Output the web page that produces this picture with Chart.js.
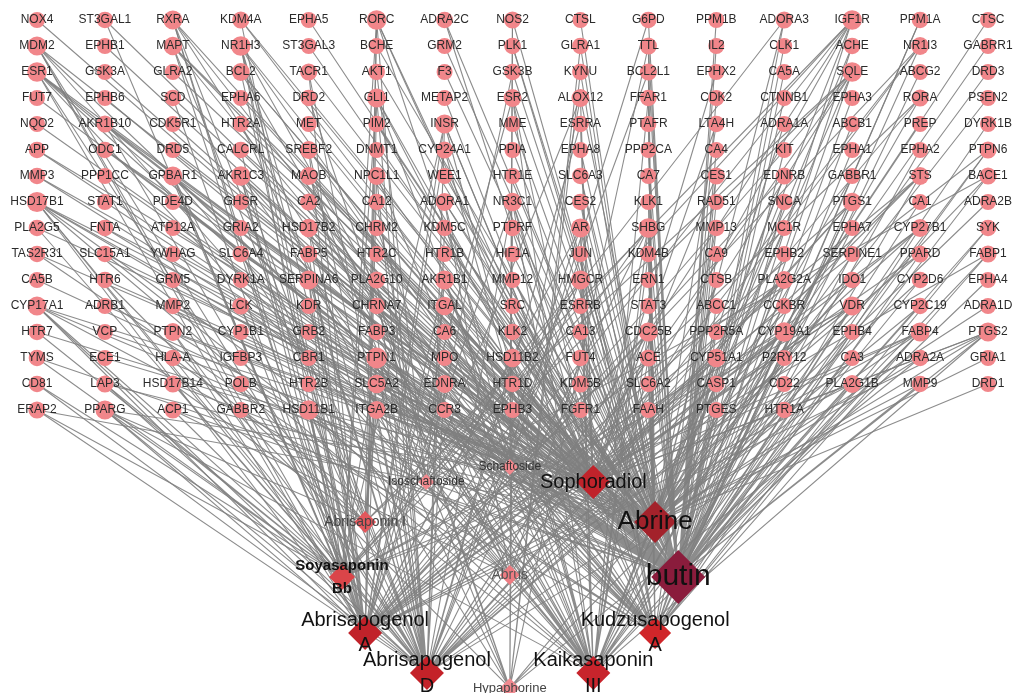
<!DOCTYPE html>
<html>
<head>
<meta charset="utf-8">
<title>Compound-target network</title>
<script src="https://cdn.jsdelivr.net/npm/chart.js@4.4.1/dist/chart.umd.min.js"></script>
<style>
  html, body { margin: 0; padding: 0; background: #fff; }
  #wrap { width: 1013px; height: 693px; }
</style>
</head>
<body>
<div id="wrap"><canvas id="net" width="1013" height="693"></canvas></div>
<script>
// target grid, row by row (column index = position in the row)
const targetRows = [
  ["NOX4","ST3GAL1","RXRA","KDM4A","EPHA5","RORC","ADRA2C","NOS2","CTSL","G6PD","PPM1B","ADORA3","IGF1R","PPM1A","CTSC"],
  ["MDM2","EPHB1","MAPT","NR1H3","ST3GAL3","BCHE","GRM2","PLK1","GLRA1","TTL","IL2","CLK1","ACHE","NR1I3","GABRR1"],
  ["ESR1","GSK3A","GLRA2","BCL2","TACR1","AKT1","F3","GSK3B","KYNU","BCL2L1","EPHX2","CA5A","SQLE","ABCG2","DRD3"],
  ["FUT7","EPHB6","SCD","EPHA6","DRD2","GLI1","METAP2","ESR2","ALOX12","FFAR1","CDK2","CTNNB1","EPHA3","RORA","PSEN2"],
  ["NQO2","AKR1B10","CDK5R1","HTR2A","MET","PIM2","INSR","MME","ESRRA","PTAFR","LTA4H","ADRA1A","ABCB1","PREP","DYRK1B"],
  ["APP","ODC1","DRD5","CALCRL","SREBF2","DNMT1","CYP24A1","PPIA","EPHA8","PPP2CA","CA4","KIT","EPHA1","EPHA2","PTPN6"],
  ["MMP3","PPP1CC","GPBAR1","AKR1C3","MAOB","NPC1L1","WEE1","HTR1E","SLC6A3","CA7","CES1","EDNRB","GABBR1","STS","BACE1"],
  ["HSD17B1","STAT1","PDE4D","GHSR","CA2","CA12","ADORA1","NR3C1","CES2","KLK1","RAD51","SNCA","PTGS1","CA1","ADRA2B"],
  ["PLA2G5","FNTA","ATP12A","GRIA2","HSD17B2","CHRM2","KDM5C","PTPRF","AR","SHBG","MMP13","MC1R","EPHA7","CYP27B1","SYK"],
  ["TAS2R31","SLC15A1","YWHAG","SLC6A4","FABP5","HTR2C","HTR1B","HIF1A","JUN","KDM4B","CA9","EPHB2","SERPINE1","PPARD","FABP1"],
  ["CA5B","HTR6","GRM5","DYRK1A","SERPINA6","PLA2G10","AKR1B1","MMP12","HMGCR","ERN1","CTSB","PLA2G2A","IDO1","CYP2D6","EPHA4"],
  ["CYP17A1","ADRB1","MMP2","LCK","KDR","CHRNA7","ITGAL","SRC","ESRRB","STAT3","ABCC1","CCKBR","VDR","CYP2C19","ADRA1D"],
  ["HTR7","VCP","PTPN2","CYP1B1","GRB2","FABP3","CA6","KLK2","CA13","CDC25B","PPP2R5A","CYP19A1","EPHB4","FABP4","PTGS2"],
  ["TYMS","ECE1","HLA-A","IGFBP3","CBR1","PTPN1","MPO","HSD11B2","FUT4","ACE","CYP51A1","P2RY12","CA3","ADRA2A","GRIA1"],
  ["CD81","LAP3","HSD17B14","POLB","HTR2B","SLC5A2","EDNRA","HTR1D","KDM5B","SLC6A2","CASP1","CD22","PLA2G1B","MMP9","DRD1"],
  ["ERAP2","PPARG","ACP1","GABBR2","HSD11B1","ITGA2B","CCR3","EPHB3","FGFR1","FAAH","PTGES","HTR1A"]
];

// compounds (position given in grid units: column / row)
const compoundNames  = ["Schaftoside","Isoschaftoside","Sophoradiol","Abrisaponin I","Abrine","Soyasaponin Bb","Abrus","butin","Abrisapogenol A","Kudzusapogenol A","Abrisapogenol D","Kaikasaponin III","Hypaphorine"];
const compoundLabels = ["Schaftoside","Isoschaftoside","Sophoradiol","Abrisaponin I","Abrine","Soyasaponin\nBb","Abrus","butin","Abrisapogenol\nA","Kudzusapogenol\nA","Abrisapogenol\nD","Kaikasaponin\nIII","Hypaphorine"];
const compoundCol    = [6.96, 5.73, 8.19, 4.83, 9.10, 4.49, 6.96, 9.44, 4.83, 9.10, 5.74, 8.19, 6.96];
const compoundRow    = [17.19, 17.77, 17.77, 19.31, 19.31, 21.42, 21.35, 21.42, 23.58, 23.58, 25.12, 25.12, 25.69];

// links, one list per compound
const schaftosideTargets = ["G6PD","NOS2","ESR1","ALOX12","ADORA1","CA2","HSD17B1","PTPRF","AKR1B1","SLC5A2"];
const isoschaftosideTargets = ["AKT1","GSK3B","ALOX12","ADORA3","CA12","BACE1","AKR1B1","PTPN1","SLC5A2","HSD17B1"];
const sophoradiolTargets = [
  "RXRA","KDM4A","RORC","ADRA2C","IGF1R","MDM2","MAPT","NR1H3","NR1I3","ESR1","BCL2","EPHX2","SQLE",
  "SCD","GLI1","METAP2","ESR2","ALOX12","RORA","AKR1B10","PIM2","INSR","ESRRA","LTA4H","SREBF2","CYP24A1",
  "GPBAR1","AKR1C3","NPC1L1","CES1","STS","HSD17B1","NR3C1","PTGS1","PLA2G5","FNTA","HSD17B2","AR","SHBG",
  "CYP27B1","FABP5","PPARD","FABP1","SERPINA6","PLA2G10","AKR1B1","HMGCR","PLA2G2A","CYP17A1","ITGAL","VDR",
  "PTPN2","FABP3","KLK2","CDC25B","CYP19A1","FABP4","PTGS2","IGFBP3","PTPN1","HSD11B2","CYP51A1",
  "SLC5A2","PLA2G1B","PPARG","HSD11B1","ITGA2B"
];
const abrisaponinTargets = ["RORC","NR1H3","SQLE","IGF1R","PTPN1","HSD17B14","POLB","SLC5A2","PPARG","GABBR2","HSD11B1","ITGA2B"];
const abrineTargets = [
  "KDM4A","ADRA2C","NOS2","CTSL","ADORA3","CTSC","MAPT","BCHE","GRM2","PLK1","GLRA1","TTL","ACHE","GABRR1",
  "GLRA2","TACR1","KYNU","DRD3","DRD2","FFAR1","PSEN2","HTR2A","MME","PTAFR","LTA4H","ADRA1A","PREP",
  "APP","ODC1","DRD5","CALCRL","DNMT1","PPIA","MMP3","MAOB","HTR1E","SLC6A3","EDNRB","GABBR1","BACE1",
  "GHSR","ADORA1","KLK1","SNCA","ADRA2B","GRIA2","CHRM2","KDM5C","MMP13","MC1R",
  "TAS2R31","SLC15A1","SLC6A4","HTR2C","HTR1B","KDM4B","HTR6","GRM5","MMP12","CTSB","IDO1","CYP2D6",
  "ADRB1","MMP2","CHRNA7","CCKBR","CYP2C19","ADRA1D","HTR7","VCP","KLK2",
  "ECE1","MPO","ACE","P2RY12","ADRA2A","GRIA1","LAP3","HTR2B","HTR1D","KDM5B","SLC6A2","CASP1","MMP9","DRD1",
  "ERAP2","CCR3","FAAH","HTR1A"
];
const soyasaponinTargets = [
  "RORC","NR1H3","SQLE","GLI1","IGF1R","MDM2","GPBAR1","AKR1C3","HSD17B1","SHBG","SERPINA6","HMGCR",
  "PLA2G2A","CYP17A1","VDR","HTR7","CYP19A1","FABP4","PTGS2","TYMS","PTPN1","INSR","CD81","LAP3",
  "HSD17B14","ERAP2","PPARG","ACP1","HSD11B1","RXRA"
];
const abrusTargets = ["ESR1","ADORA1","CA2","MAOB","CHRM2","TAS2R31","SLC15A1","ACE","FUT4","ACP1"];
const butinTargets = [
  "NOX4","ST3GAL1","EPHA5","G6PD","PPM1B","ADORA3","PPM1A","EPHB1","ST3GAL3","PLK1","TTL","IL2","CLK1","ACHE",
  "ESR1","GSK3A","BCL2","AKT1","F3","GSK3B","BCL2L1","CA5A","ABCG2","FUT7","EPHB6","EPHA6","ESR2","ALOX12",
  "CDK2","CTNNB1","EPHA3","NQO2","AKR1B10","CDK5R1","MET","PIM2","ABCB1","DYRK1B","APP","ODC1","EPHA8",
  "PPP2CA","CA4","KIT","EPHA1","EPHA2","PTPN6","MMP3","PPP1CC","AKR1C3","MAOB","WEE1","SLC6A3","CA7","CES1",
  "BACE1","HSD17B1","STAT1","PDE4D","CA2","CA12","ADORA1","CES2","RAD51","SNCA","PTGS1","CA1","FNTA",
  "ATP12A","HSD17B2","PTPRF","AR","SHBG","MMP13","EPHA7","SYK","YWHAG","HIF1A","JUN","CA9","EPHB2",
  "SERPINE1","FABP1","CA5B","DYRK1A","AKR1B1","ERN1","CYP2D6","EPHA4","CYP17A1","MMP2","LCK","KDR","ITGAL",
  "SRC","ESRRB","STAT3","ABCC1","VDR","CYP2C19","CYP1B1","GRB2","CA6","CA13","CDC25B","PPP2R5A","CYP19A1",
  "EPHB4","FABP4","PTGS2","TYMS","CBR1","PTPN1","FUT4","CA3","HSD17B14","POLB","MMP9","ACP1","EPHB3",
  "FGFR1","PTGES"
];
const abrisapogenolATargets = [
  "ST3GAL1","RXRA","KDM4A","RORC","IGF1R","MDM2","MAPT","NR1H3","NR1I3","ESR1","BCL2","TACR1","SQLE","SCD",
  "GLI1","ESR2","RORA","INSR","CALCRL","SREBF2","CYP24A1","PTPN6","GPBAR1","AKR1C3","NPC1L1","EDNRB","STS",
  "HSD17B1","NR3C1","PTGS1","HSD17B2","AR","SHBG","CYP27B1","FABP5","SERPINA6","AKR1B1","HMGCR","PLA2G2A",
  "CYP17A1","LCK","ITGAL","VDR","PTPN2","CDC25B","CYP19A1","FABP4","PTGS2","PTPN1","HSD11B2","CYP51A1",
  "EDNRA","PLA2G1B","PPARG","HSD11B1"
];
const kudzusapogenolTargets = [
  "RXRA","RORC","IGF1R","PPM1A","MDM2","MAPT","NR1H3","NR1I3","ESR1","BCL2L1","SQLE","GLI1","INSR","SREBF2",
  "GPBAR1","AKR1C3","CES1","STS","NR3C1","CES2","PTGS1","HSD17B2","AR","SHBG","CYP27B1","SYK","FABP5",
  "PPARD","FABP1","PLA2G10","SERPINA6","HMGCR","CYP17A1","LCK","ITGAL","PTPN2","CDC25B","CYP19A1","PTPN1",
  "HSD11B2","CYP51A1","EDNRA","KDM5B","PLA2G1B","HSD11B1"
];
const abrisapogenolDTargets = [
  "RXRA","RORC","IGF1R","MDM2","MAPT","NR1H3","NR1I3","ESR1","BCL2L1","TACR1","SQLE","GLI1","AKR1B10","INSR",
  "ESRRA","SREBF2","GPBAR1","AKR1C3","NPC1L1","STS","HSD17B1","NR3C1","PTGS1","PLA2G5","HSD17B2","KDM5C",
  "AR","SHBG","CYP27B1","PPARD","SERPINA6","PLA2G10","HMGCR","CYP17A1","VDR","PTPN2","FABP3","CDC25B",
  "CYP19A1","FABP4","PTGS2","HLA-A","PTPN1","HSD11B2","CYP51A1","CD81","LAP3","EDNRA","ERAP2","PPARG",
  "HSD11B1","ITGA2B"
];
const kaikasaponinTargets = [
  "RXRA","RORC","IGF1R","MDM2","NR1H3","BCL2","SQLE","GLI1","FFAR1","RORA","ESR2","INSR","CYP24A1","PTPN6",
  "GPBAR1","AKR1C3","NPC1L1","EDNRB","HSD17B1","NR3C1","AR","SHBG","KDM4B","AKR1B1","HMGCR","PLA2G2A",
  "SERPINA6","ITGAL","VDR","CDC25B","CYP19A1","FABP4","PTGS2","HLA-A","PTPN1","HSD11B2","ACE","CYP51A1",
  "SLC5A2","EDNRA","KDM5B","CASP1","CD22","PLA2G1B","PPARG","HSD11B1","ITGA2B"
];
const hypaphorineTargets = ["NOS2","GLRA1","TTL","KYNU","DRD2","HTR2A","SLC6A4","HTR6","IDO1","MAOB","CHRNA7","ADRA2A","HTR1A","HTR1D"];

// same order as compoundNames
const compoundTargets = [
  schaftosideTargets, isoschaftosideTargets, sophoradiolTargets, abrisaponinTargets, abrineTargets,
  soyasaponinTargets, abrusTargets, butinTargets, abrisapogenolATargets, kudzusapogenolTargets,
  abrisapogenolDTargets, kaikasaponinTargets, hypaphorineTargets
];

// ---- styling (kept apart from the data) ----
const FONT = "'Liberation Sans', Arial, sans-serif";
const compoundStyle = {
  "Schaftoside":      { r: 8,  fill: "#F2898E", font: "12px " + FONT, text: "#333", lh: 14 },
  "Isoschaftoside":   { r: 8,  fill: "#F2898E", font: "12px " + FONT, text: "#333", lh: 14 },
  "Sophoradiol":      { r: 17, fill: "#C0232B", font: "20px " + FONT, text: "#111", lh: 24 },
  "Abrisaponin I":    { r: 11, fill: "#E2575C", font: "14px " + FONT, text: "#444", lh: 16 },
  "Abrine":           { r: 21, fill: "#A3222B", font: "26px " + FONT, text: "#111", lh: 30 },
  "Soyasaponin Bb":   { r: 13, fill: "#DA4549", font: "bold 15px " + FONT, text: "#111", lh: 23 },
  "Abrus":            { r: 10, fill: "#EE7C82", font: "14px " + FONT, text: "#555", lh: 16 },
  "butin":            { r: 27, fill: "#8A1C3C", font: "30px " + FONT, text: "#111", lh: 34 },
  "Abrisapogenol A":  { r: 17, fill: "#C1222A", font: "20px " + FONT, text: "#111", lh: 25 },
  "Kudzusapogenol A": { r: 16, fill: "#D0262A", font: "20px " + FONT, text: "#111", lh: 25 },
  "Abrisapogenol D":  { r: 17, fill: "#C42229", font: "20px " + FONT, text: "#111", lh: 26 },
  "Kaikasaponin III": { r: 17, fill: "#C8242C", font: "20px " + FONT, text: "#111", lh: 26 },
  "Hypaphorine":      { r: 10, fill: "#F08A90", font: "13px " + FONT, text: "#444", lh: 15 }
};

// ---- build points ----
const targetNames = [];
const targetPos = {};
targetRows.forEach((row, r) => row.forEach((name, c) => {
  targetNames.push(name);
  targetPos[name] = { x: c, y: r };
}));

const degree = {};
compoundTargets.forEach(list => list.forEach(t => { degree[t] = (degree[t] || 0) + 1; }));

const compoundPts = compoundNames.map((n, i) => ({ x: compoundCol[i], y: compoundRow[i] }));

// one polyline per compound: c -> t1 -> c -> t2 ... (draws a star of edges)
const edgeSets = compoundTargets.map((list, i) => {
  const c = compoundPts[i];
  const pts = [c];
  list.forEach(t => {
    if (!targetPos[t]) { console.warn("unknown target", t); return; }
    pts.push(targetPos[t], c);
  });
  return {
    data: pts,
    showLine: true,
    borderColor: "rgba(128,128,128,0.9)",
    borderWidth: 1.1,
    borderJoinStyle: "round",
    pointRadius: 0,
    pointHoverRadius: 0,
    clip: false,
    order: 2
  };
});

const labelPlugin = {
  id: "nodeLabels",
  afterDatasetsDraw(chart) {
    const ctx = chart.ctx;
    ctx.save();
    ctx.textAlign = "center";
    ctx.textBaseline = "middle";

    ctx.font = "12px " + FONT;
    ctx.fillStyle = "#2b2b2b";
    chart.getDatasetMeta(0).data.forEach((el, i) => ctx.fillText(targetNames[i], el.x, el.y));

    chart.getDatasetMeta(1).data.forEach((el, i) => {
      const st = compoundStyle[compoundNames[i]];
      const lines = compoundLabels[i].split("\n");
      ctx.font = st.font;
      ctx.fillStyle = st.text;
      lines.forEach((ln, k) => {
        ctx.fillText(ln, el.x, el.y + (k - (lines.length - 1) / 2) * st.lh);
      });
    });
    ctx.restore();
  }
};

new Chart(document.getElementById("net"), {
  type: "scatter",
  data: {
    datasets: [
      {
        label: "targets",
        data: targetNames.map(n => targetPos[n]),
        backgroundColor: "#F1868A",
        borderWidth: 0,
        pointRadius: targetNames.map(n => 8 + Math.min(2.5, ((degree[n] || 1) - 1) * 0.3)),
        pointHoverRadius: 0,
        clip: false,
        order: 1
      },
      {
        label: "compounds",
        data: compoundPts,
        pointStyle: "rectRot",
        backgroundColor: compoundNames.map(n => compoundStyle[n].fill),
        borderWidth: 0,
        pointRadius: compoundNames.map(n => compoundStyle[n].r),
        pointHoverRadius: 0,
        clip: false,
        order: 0
      },
      ...edgeSets
    ]
  },
  options: {
    responsive: false,
    animation: false,
    events: [],
    layout: { padding: 0, autoPadding: false },
    plugins: { legend: { display: false }, tooltip: { enabled: false } },
    scales: {
      x: { type: "linear", display: false, min: -0.5447, max: 14.368 },
      y: { type: "linear", display: false, reverse: true, min: -0.769, max: 25.885 }
    }
  },
  plugins: [labelPlugin]
});
</script>
</body>
</html>
